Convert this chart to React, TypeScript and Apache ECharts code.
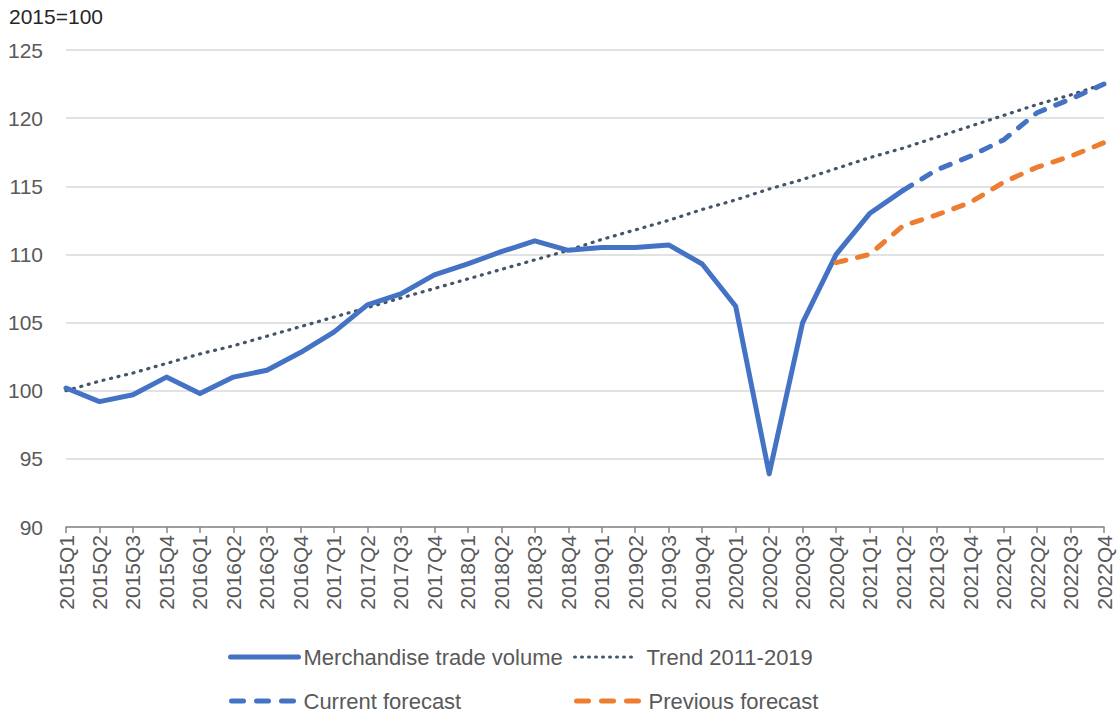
import React, { useEffect, useRef } from "react";
import * as echarts from "echarts";

const categories = [
  "2015Q1", "2015Q2", "2015Q3", "2015Q4",
  "2016Q1", "2016Q2", "2016Q3", "2016Q4",
  "2017Q1", "2017Q2", "2017Q3", "2017Q4",
  "2018Q1", "2018Q2", "2018Q3", "2018Q4",
  "2019Q1", "2019Q2", "2019Q3", "2019Q4",
  "2020Q1", "2020Q2", "2020Q3", "2020Q4",
  "2021Q1", "2021Q2", "2021Q3", "2021Q4",
  "2022Q1", "2022Q2", "2022Q3", "2022Q4",
];

const tradeVolume = [
  100.2, 99.2, 99.7, 101.0, 99.8, 101.0, 101.5, 102.8,
  104.3, 106.3, 107.1, 108.5, 109.3, 110.2, 111.0, 110.3,
  110.5, 110.5, 110.7, 109.3, 106.2, 93.9, 105.0, 110.0,
  113.0, 114.7, null, null, null, null, null, null,
];

const trend = [
  100.0, 100.7, 101.3, 102.0, 102.7, 103.3, 104.0, 104.7,
  105.4, 106.1, 106.8, 107.5, 108.2, 108.9, 109.6, 110.3,
  111.1, 111.8, 112.5, 113.3, 114.0, 114.8, 115.5, 116.3,
  117.1, 117.8, 118.6, 119.4, 120.2, 121.0, 121.7, 122.5,
];

const currentForecast = [
  null, null, null, null, null, null, null, null,
  null, null, null, null, null, null, null, null,
  null, null, null, null, null, null, null, null,
  null, 114.7, 116.2, 117.2, 118.4, 120.4, 121.4, 122.5,
];

const previousForecast = [
  null, null, null, null, null, null, null, null,
  null, null, null, null, null, null, null, null,
  null, null, null, null, null, null, null, 109.4,
  110.0, 112.1, 112.9, 113.8, 115.3, 116.4, 117.2, 118.2,
];

const yTicks = { min: 90, max: 125, interval: 5 };

const FONT = "Liberation Sans";
const BLUE = "#4472C4";
const ORANGE = "#ED7D31";
const TREND = "#44546A";
const TXT = "#595959";

const DOTTED = [1, 6.7];
const DASHED = [10, 12];

export default function App() {
  const ref = useRef<HTMLDivElement>(null);

  useEffect(() => {
    if (!ref.current) return;
    const chart = echarts.init(ref.current, undefined, { renderer: "svg" });

    const legendBase = (
      name: string,
      left: number,
      top: number,
      itemWidth: number,
      textPad: number,
      color: string,
      width: number,
      type: any
    ) => ({
      show: true,
      left,
      top,
      orient: "horizontal",
      itemWidth,
      itemHeight: 14,
      itemGap: 0,
      padding: 0,
      selectedMode: false,
      itemStyle: { opacity: 0, borderWidth: 0 },
      lineStyle: { color, width, type, cap: "round", opacity: 1 },
      textStyle: {
        fontFamily: FONT,
        fontSize: 22,
        color: TXT,
        padding: [0, 0, 0, textPad],
      },
      data: [name],
    });

    chart.setOption({
      animation: false,
      backgroundColor: "#ffffff",
      textStyle: { fontFamily: FONT },
      grid: { left: 66, right: 14, top: 50, bottom: 189, containLabel: false },
      graphic: [
        {
          type: "text",
          left: 9,
          top: 6,
          style: { text: "2015=100", fontFamily: FONT, fontSize: 21, fill: "#262626" },
        },
      ],
      legend: [
        legendBase("Merchandise trade volume", 228, 646, 68, 0, BLUE, 5, "solid"),
        legendBase("Trend 2011-2019", 573, 646, 62, 5, TREND, 3, [1, 6]),
        legendBase("Current forecast", 229, 690, 62, 5, BLUE, 5, [12, 13]),
        legendBase("Previous forecast", 574, 690, 62, 5, ORANGE, 5, [12, 13]),
      ],
      xAxis: {
        type: "category",
        data: categories,
        boundaryGap: false,
        axisLine: { lineStyle: { color: "#868686", width: 1.5 } },
        axisTick: { show: true, length: 6, lineStyle: { color: "#868686", width: 1.5 } },
        axisLabel: {
          rotate: 90,
          interval: 0,
          margin: 8,
          fontFamily: FONT,
          fontSize: 21,
          color: TXT,
        },
        splitLine: { show: false },
      },
      yAxis: {
        type: "value",
        min: yTicks.min,
        max: yTicks.max,
        interval: yTicks.interval,
        axisLine: { show: false },
        axisTick: { show: false },
        axisLabel: { margin: 23, fontFamily: FONT, fontSize: 21, color: TXT },
        splitLine: { lineStyle: { color: "#D9D9D9", width: 1.5 } },
      },
      series: [
        {
          name: "Trend 2011-2019",
          type: "line",
          data: trend,
          symbol: "none",
          lineStyle: { color: TREND, width: 3.2, type: DOTTED, cap: "round" },
          itemStyle: { color: TREND },
          z: 2,
        },
        {
          name: "Merchandise trade volume",
          type: "line",
          data: tradeVolume,
          symbol: "none",
          connectNulls: false,
          lineStyle: { color: BLUE, width: 5, type: "solid", cap: "round", join: "round" },
          itemStyle: { color: BLUE },
          z: 3,
        },
        {
          name: "Current forecast",
          type: "line",
          data: currentForecast,
          symbol: "none",
          lineStyle: { color: BLUE, width: 5, type: DASHED, cap: "round", join: "round" },
          itemStyle: { color: BLUE },
          z: 4,
        },
        {
          name: "Previous forecast",
          type: "line",
          data: previousForecast,
          symbol: "none",
          lineStyle: { color: ORANGE, width: 5, type: DASHED, cap: "round", join: "round" },
          itemStyle: { color: ORANGE },
          z: 5,
        },
      ],
    });

    return () => chart.dispose();
  }, []);

  return (
    <div
      ref={ref}
      style={{ position: "absolute", left: 0, top: 0, width: 1118, height: 716 }}
    />
  );
}
